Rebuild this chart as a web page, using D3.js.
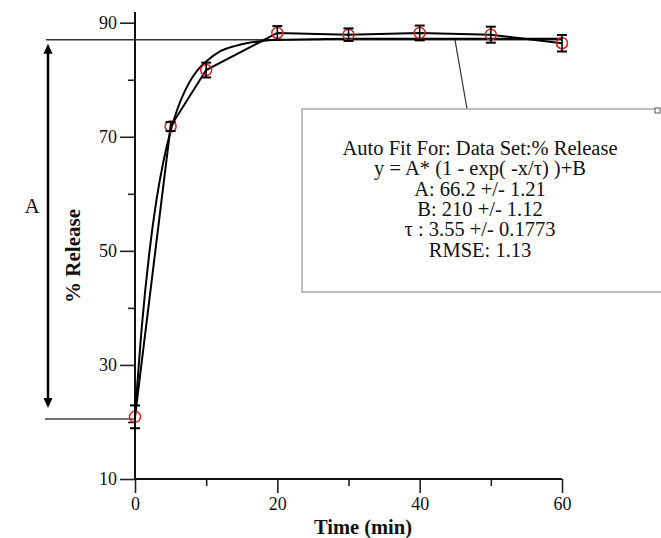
<!DOCTYPE html>
<html>
<head>
<meta charset="utf-8">
<script src="https://cdn.jsdelivr.net/npm/d3@7"></script>
<style>
  html, body { margin: 0; padding: 0; background: #fff; }
  svg { display: block; }
  text { font-family: "Liberation Serif", "Times New Roman", serif; fill: #111; }
</style>
</head>
<body>
<svg id="chart" width="661" height="538"></svg>
<script>
// ---- data ----
const times = [0, 5, 10, 20, 30, 40, 50, 60];
const release = [20.9, 71.8, 81.7, 88.2, 87.9, 88.2, 87.9, 86.4];
const errors = [2.0, 0.8, 1.3, 1.2, 1.1, 1.3, 1.4, 1.45];

const fitTimes = [0, 1, 2, 3, 4, 5, 6, 7, 8, 9, 10, 12, 14, 16, 18, 20, 25, 30, 40, 50, 60];
const fitRelease = [21.0, 37.3, 49.5, 58.8, 65.7, 71.0, 75.0, 78.0, 80.3, 82.0, 83.2, 85.0, 85.9, 86.5, 86.8, 87.0, 87.1, 87.2, 87.2, 87.2, 87.2];

const xMajorTicks = [0, 20, 40, 60];
const xMinorTicks = [10, 30, 50];
const yMajorTicks = [10, 30, 50, 70, 90];
const yMinorTicks = [20, 40, 60, 80];

const plateauLevel = 87.0;
const baseLevel = 20.5;

const boxLines = [
  "Auto Fit For: Data Set:% Release",
  "y = A* (1 - exp( -x/\u03C4) )+B",
  "A: 66.2 +/- 1.21",
  "B: 210 +/- 1.12",
  "\u03C4 : 3.55 +/- 0.1773",
  "RMSE: 1.13"
];

// ---- drawing ----
const svg = d3.select("#chart");
const x = d3.scaleLinear().domain([0, 60]).range([135, 562]);
const y = d3.scaleLinear().domain([10, 90]).range([479, 22.7]);

// reference lines (plateau and base) with arrow
svg.append("line")
  .attr("x1", 46).attr("x2", x(60))
  .attr("y1", y(plateauLevel)).attr("y2", y(plateauLevel))
  .attr("stroke", "#333").attr("stroke-width", 1.5);
svg.append("line")
  .attr("x1", 45).attr("x2", x(0))
  .attr("y1", y(baseLevel)).attr("y2", y(baseLevel))
  .attr("stroke", "#444").attr("stroke-width", 1.5);

const ax = 48;
const yTop = y(plateauLevel) + 4, yBot = y(baseLevel) - 11;
svg.append("line")
  .attr("x1", ax).attr("x2", ax)
  .attr("y1", yTop + 6).attr("y2", yBot - 6)
  .attr("stroke", "#000").attr("stroke-width", 2.5);
svg.append("path")
  .attr("d", `M${ax},${yTop} L${ax - 4.5},${yTop + 10} L${ax + 4.5},${yTop + 10} Z`)
  .attr("fill", "#000");
svg.append("path")
  .attr("d", `M${ax},${yBot} L${ax - 4.5},${yBot - 10} L${ax + 4.5},${yBot - 10} Z`)
  .attr("fill", "#000");
svg.append("text").attr("x", 32).attr("y", 213)
  .attr("text-anchor", "middle").attr("font-size", 21).text("A");

// axes
const gx = svg.append("g").attr("transform", `translate(0,${y(10)})`);
gx.call(d3.axisBottom(x).tickValues(xMajorTicks).tickSize(14).tickPadding(4).tickFormat(d3.format("d")));
gx.append("g").call(d3.axisBottom(x).tickValues(xMinorTicks).tickSize(7).tickFormat(""))
  .select(".domain").remove();

const gy = svg.append("g").attr("transform", `translate(${x(0)},0)`);
gy.call(d3.axisLeft(y).tickValues(yMajorTicks).tickSize(15).tickPadding(3).tickFormat(d3.format("d")));
gy.append("g").call(d3.axisLeft(y).tickValues(yMinorTicks).tickSize(7).tickFormat(""))
  .select(".domain").remove();

svg.selectAll(".domain").remove();
svg.selectAll(".tick line").attr("stroke", "#222").attr("stroke-width", 1.6);
svg.selectAll(".tick text")
  .attr("font-family", "'Liberation Serif', serif")
  .attr("font-size", 18).attr("fill", "#222");

// axis lines
svg.append("line").attr("x1", x(0)).attr("x2", x(0))
  .attr("y1", 12).attr("y2", y(10))
  .attr("stroke", "#111").attr("stroke-width", 2);
svg.append("line").attr("x1", x(0)).attr("x2", x(60))
  .attr("y1", y(10)).attr("y2", y(10))
  .attr("stroke", "#111").attr("stroke-width", 1.8);

// axis titles
svg.append("text").attr("x", 363).attr("y", 534)
  .attr("text-anchor", "middle").attr("font-size", 20.5).attr("font-weight", "bold")
  .text("Time (min)");
svg.append("text")
  .attr("transform", "translate(80,256) rotate(-90)")
  .attr("text-anchor", "middle").attr("font-size", 21).attr("font-weight", "bold")
  .text("% Release");

// fit curve
const fitData = fitTimes.map((t, i) => [t, fitRelease[i]]);
svg.append("path")
  .datum(fitData)
  .attr("d", d3.line().x(d => x(d[0])).y(d => y(d[1])).curve(d3.curveMonotoneX))
  .attr("fill", "none").attr("stroke", "#000").attr("stroke-width", 2);

// data polyline
const pts = times.map((t, i) => ({ t, v: release[i], e: errors[i] }));
svg.append("path")
  .datum(pts)
  .attr("d", d3.line().x(d => x(d.t)).y(d => y(d.v)))
  .attr("fill", "none").attr("stroke", "#000").attr("stroke-width", 2);

// markers
const mk = svg.append("g");
mk.selectAll("circle").data(pts).join("circle")
  .attr("cx", d => x(d.t)).attr("cy", d => y(d.v)).attr("r", 5.5)
  .attr("fill", "none").attr("stroke", "#d42020").attr("stroke-width", 1.5);
const eb = mk.selectAll("g.eb").data(pts).join("g").attr("class", "eb");
eb.append("line")
  .attr("x1", d => x(d.t)).attr("x2", d => x(d.t))
  .attr("y1", d => y(d.v + d.e)).attr("y2", d => y(d.v - d.e))
  .attr("stroke", "#000").attr("stroke-width", 1.6);
eb.append("line")
  .attr("x1", d => x(d.t) - 5).attr("x2", d => x(d.t) + 5)
  .attr("y1", d => y(d.v + d.e)).attr("y2", d => y(d.v + d.e))
  .attr("stroke", "#000").attr("stroke-width", 2);
eb.append("line")
  .attr("x1", d => x(d.t) - 5).attr("x2", d => x(d.t) + 5)
  .attr("y1", d => y(d.v - d.e)).attr("y2", d => y(d.v - d.e))
  .attr("stroke", "#000").attr("stroke-width", 2);

// annotation box
const bx = 302, by = 109, bw = 353, bh = 183;
svg.append("line").attr("x1", 455).attr("y1", y(plateauLevel))
  .attr("x2", 467).attr("y2", by)
  .attr("stroke", "#333").attr("stroke-width", 1.2);
svg.append("path")
  .attr("d", `M${bx + bw},${by} L${bx},${by} L${bx},${by + bh} L661,${by + bh}`)
  .attr("fill", "none").attr("stroke", "#aaa").attr("stroke-width", 1.5);
svg.append("rect").attr("x", 655).attr("y", by - 1).attr("width", 5).attr("height", 5)
  .attr("fill", "none").attr("stroke", "#555").attr("stroke-width", 1);
svg.append("g").selectAll("text").data(boxLines).join("text")
  .attr("x", 480).attr("y", (d, i) => 155 + i * 20.3)
  .attr("text-anchor", "middle").attr("font-size", 20.5).attr("fill", "#111")
  .text(d => d);
</script>
</body>
</html>
